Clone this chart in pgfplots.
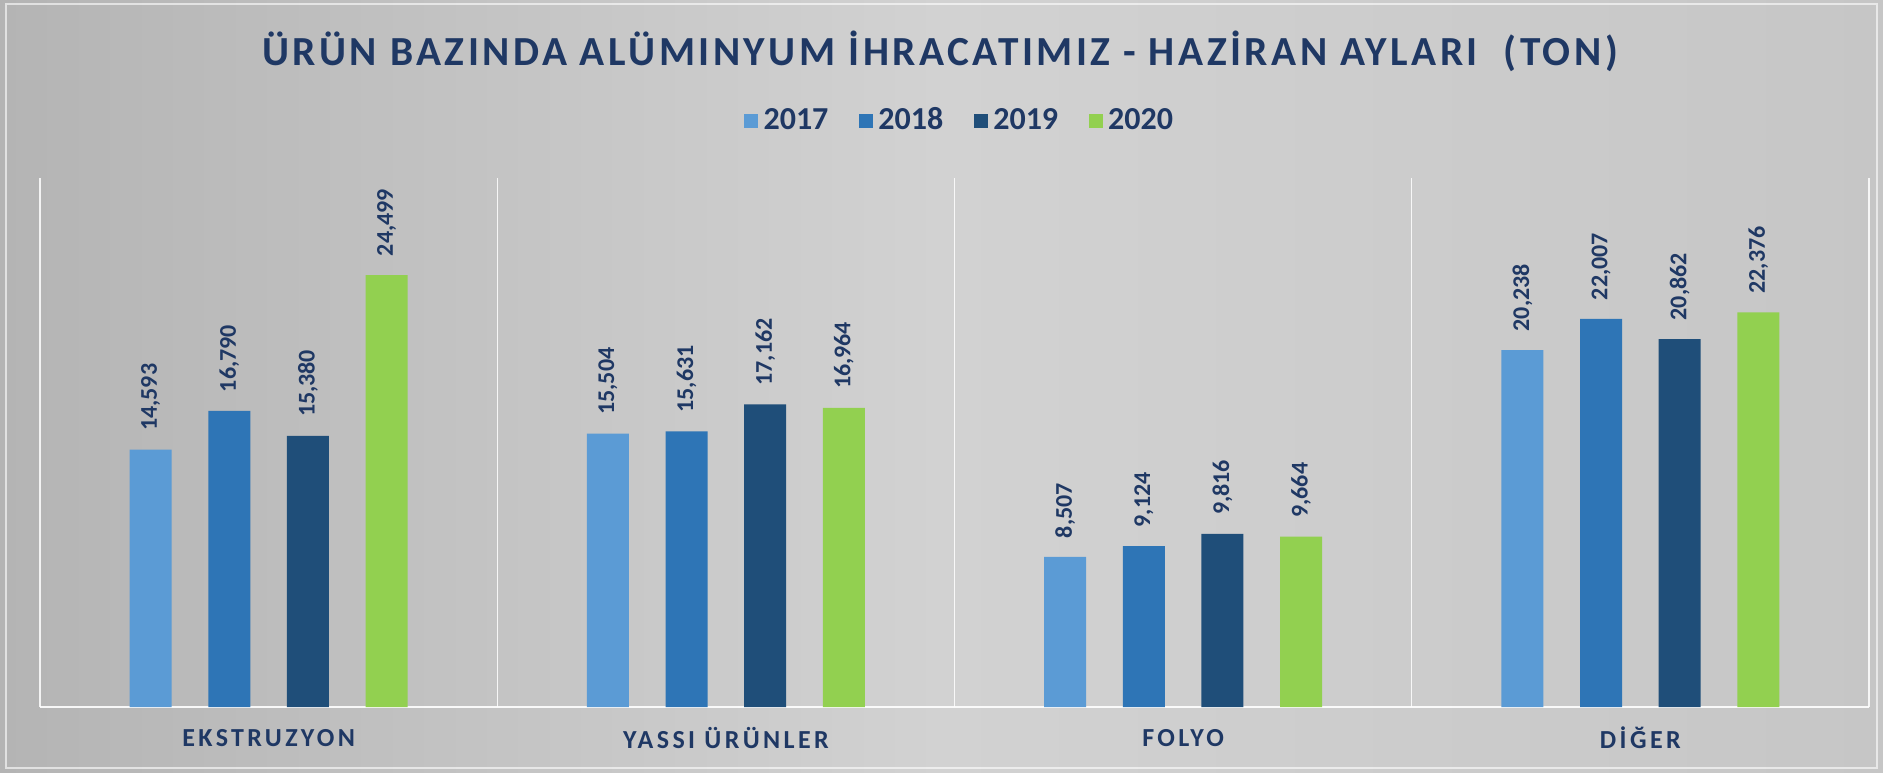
\documentclass[border=0pt]{standalone}
\usepackage{pgfplots}
\pgfplotsset{compat=1.18}
\usepackage{fontspec}
\setmainfont{Carlito}
\newfontfamily\titlefont[LetterSpace=8.5]{Carlito}
\newfontfamily\catfont[LetterSpace=13]{Carlito}
\definecolor{c17}{HTML}{5B9BD5}
\definecolor{c18}{HTML}{2E75B6}
\definecolor{c19}{HTML}{1F4E79}
\definecolor{c20}{HTML}{92D050}
\definecolor{navy}{HTML}{1F3864}
\definecolor{bgL}{HTML}{B4B4B4}
\definecolor{bgM}{HTML}{D2D2D2}
\definecolor{bgR}{HTML}{C6C6C6}

\begin{document}
\begin{tikzpicture}[x=0.75pt,y=0.75pt]
% brushed metal background
\shade[left color=bgL, right color=bgR, middle color=bgM] (0,0) rectangle (1883,772);
\draw[white, opacity=0.6, line width=0.8pt] (6,4) rectangle (1877,768);

\node[text=navy, font=\titlefont\bfseries\fontsize{31}{31}\selectfont] at (940,721)
  {ÜRÜN BAZINDA ALÜMINYUM İHRACATIMIZ - HAZİRAN AYLARI \ (TON)};

\begin{axis}[
  at={(30pt,48.75pt)}, anchor=south west,
  scale only axis,
  width=1371.75pt, height=396.75pt,
  ybar=27.5pt, bar width=31.5pt,
  xmin=-0.5, xmax=3.5, ymin=0, ymax=30000,
  axis line style={draw=none},
  ytick=\empty,
  xtick={0,1,2,3},
  xticklabels={EKSTRUZYON, YASSI ÜRÜNLER, FOLYO, DİĞER},
  major tick length=0pt,
  xticklabel style={anchor=center, yshift=-23pt, text=navy,
    font=\catfont\bfseries\fontsize{19.5}{19.5}\selectfont},
  minor xtick={-0.5,0.5,1.5,2.5,3.5},
  minor tick length=0pt,
  xminorgrids,
  minor grid style={white, opacity=0.85, line width=1pt},
  extra y ticks={0},
  extra y tick labels={},
  extra y tick style={grid=major, major grid style={white, opacity=0.9, line width=1.2pt}},
  /pgf/number format/1000 sep={,},
  /pgf/number format/assume math mode=true,
  nodes near coords,
  nodes near coords style={text=navy, font=\bfseries\fontsize{18}{18}\selectfont,
    rotate=90, anchor=west, inner xsep=14pt, inner ysep=0pt},
  legend columns=4,
  legend style={at={(axis description cs:0.503,1.11)}, anchor=center,
    draw=none, fill=none, text=navy,
    font=\bfseries\fontsize{24}{24}\selectfont,
    /tikz/every even column/.append style={column sep=21pt},
    /tikz/every odd column/.append style={column sep=2pt}},
  legend image code/.code={\fill[#1] (0pt,-6pt) rectangle (10.5pt,4.5pt);},
]
\addplot[fill=c17, draw=none] coordinates {(0,14593) (1,15504) (2,8507) (3,20238)};
\addplot[fill=c18, draw=none] coordinates {(0,16790) (1,15631) (2,9124) (3,22007)};
\addplot[fill=c19, draw=none] coordinates {(0,15380) (1,17162) (2,9816) (3,20862)};
\addplot[fill=c20, draw=none] coordinates {(0,24499) (1,16964) (2,9664) (3,22376)};
\legend{2017, 2018, 2019, 2020}
\end{axis}
\end{tikzpicture}
\end{document}
